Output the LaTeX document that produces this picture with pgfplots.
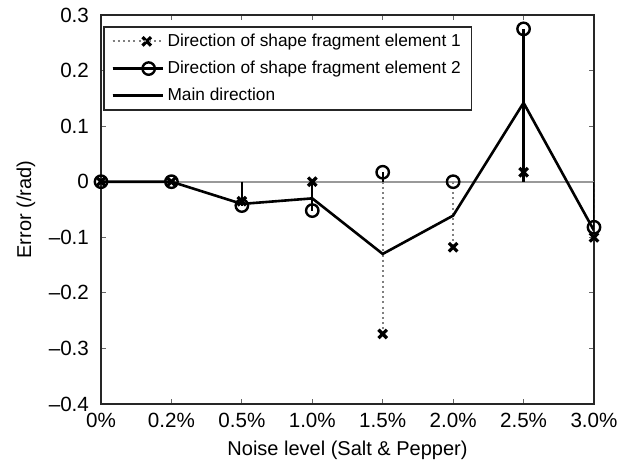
\documentclass[border=0pt]{standalone}
\usepackage{pgfplots}
\usepackage{pgfplotstable}
\pgfplotsset{compat=1.18}
\usepackage{fontspec}
\setmainfont{Liberation Sans}
\pgfplotstableread{
x e1 e2 main
0 0 0 0
1 0 0 0
2 -0.035 -0.043 -0.040
3 0.000 -0.052 -0.030
4 -0.274 0.017 -0.130
5 -0.118 0.000 -0.061
6 0.017 0.275 0.142
7 -0.100 -0.082 -0.088
}\datatable
\begin{document}
\begin{tikzpicture}
\begin{axis}[
 name=ax,
 width=246.5pt, height=194.5pt, scale only axis,
 xmin=0, xmax=7, ymin=-0.4, ymax=0.3,
 xtick={0,...,7},
 xticklabels={0\%,0.2\%,0.5\%,1.0\%,1.5\%,2.0\%,2.5\%,3.0\%},
 ytick={-0.4,-0.3,-0.2,-0.1,0,0.1,0.2,0.3},
 yticklabels={--0.4,--0.3,--0.2,--0.1,0,0.1,0.2,0.3},
 tick align=inside, xtick pos=both, ytick pos=both,
 major tick length=2.5pt,
 every tick/.style={black!60, line width=0.5pt},
 axis line style={black!85, line width=0.9pt},
 tick label style={font=\fontsize{10.3}{12}\selectfont},
 label style={font=\fontsize{10.3}{12}\selectfont},
 yticklabel style={xshift=-2.5pt},
 xticklabel style={yshift=-1pt},
 every axis x label/.style={at={(axis description cs:0.5,-0.118)}, anchor=center},
 every axis y label/.style={at={(axis description cs:-0.152,0.5)}, rotate=90, anchor=center},
 xlabel={Noise level (Salt \& Pepper)},
 ylabel={Error (/rad)},
 legend cell align=left,
 legend style={at={(axis description cs:0.005,0.972)}, anchor=north west,
   draw=black!85, line width=0.9pt, inner xsep=3.5pt, inner ysep=0.5pt,
   font=\fontsize{8.65}{10}\selectfont,
   nodes={inner sep=1.8pt, text height=0.75em, text depth=0.25em}},
]
\addplot[gray!80, line width=0.8pt, forget plot] coordinates {(0,0) (7,0)};
\addplot[ycomb, gray, dash pattern=on 1pt off 1.6pt, line width=1pt,
  mark=x, mark size=3pt, mark options={black, solid, line width=1.6pt},
  legend image code/.code={
    \draw[gray, dash pattern=on 1pt off 1.6pt, line width=1pt] (0pt,0pt) -- (13pt,0pt);
    \draw[black, solid, line width=1.6pt] plot[mark=x, mark size=3pt] coordinates {(17pt,0pt)};
    \path (0pt,0pt) -- (25pt,0pt);}]
  table[x=x, y=e1] {\datatable};
\addlegendentry{Direction of shape fragment element 1}
\addplot[ycomb, black, line width=1.2pt,
  mark=o, mark size=3.1pt, mark options={black, solid, line width=1.2pt},
  legend image code/.code={
    \draw[black, line width=1.2pt] (0pt,0pt) -- (15pt,0pt);
    \draw[black, solid, line width=1.2pt] plot[mark=o, mark size=3.1pt] coordinates {(18pt,0pt)};
    \path (0pt,0pt) -- (25pt,0pt);}]
  table[x=x, y=e2] {\datatable};
\addlegendentry{Direction of shape fragment element 2}
\addplot[black, line width=1.3pt, mark=none,
  legend image code/.code={
    \draw[black, line width=1.3pt] (0pt,0pt) -- (22.5pt,0pt);
    \path (0pt,0pt) -- (25pt,0pt);}]
  table[x=x, y=main] {\datatable};
\addlegendentry{Main direction}
\end{axis}
\pgfresetboundingbox
\path ([shift={(-50.5pt,-28.5pt)}]ax.south west) rectangle ([shift={(19pt,7.5pt)}]ax.north east);
\end{tikzpicture}
\end{document}
